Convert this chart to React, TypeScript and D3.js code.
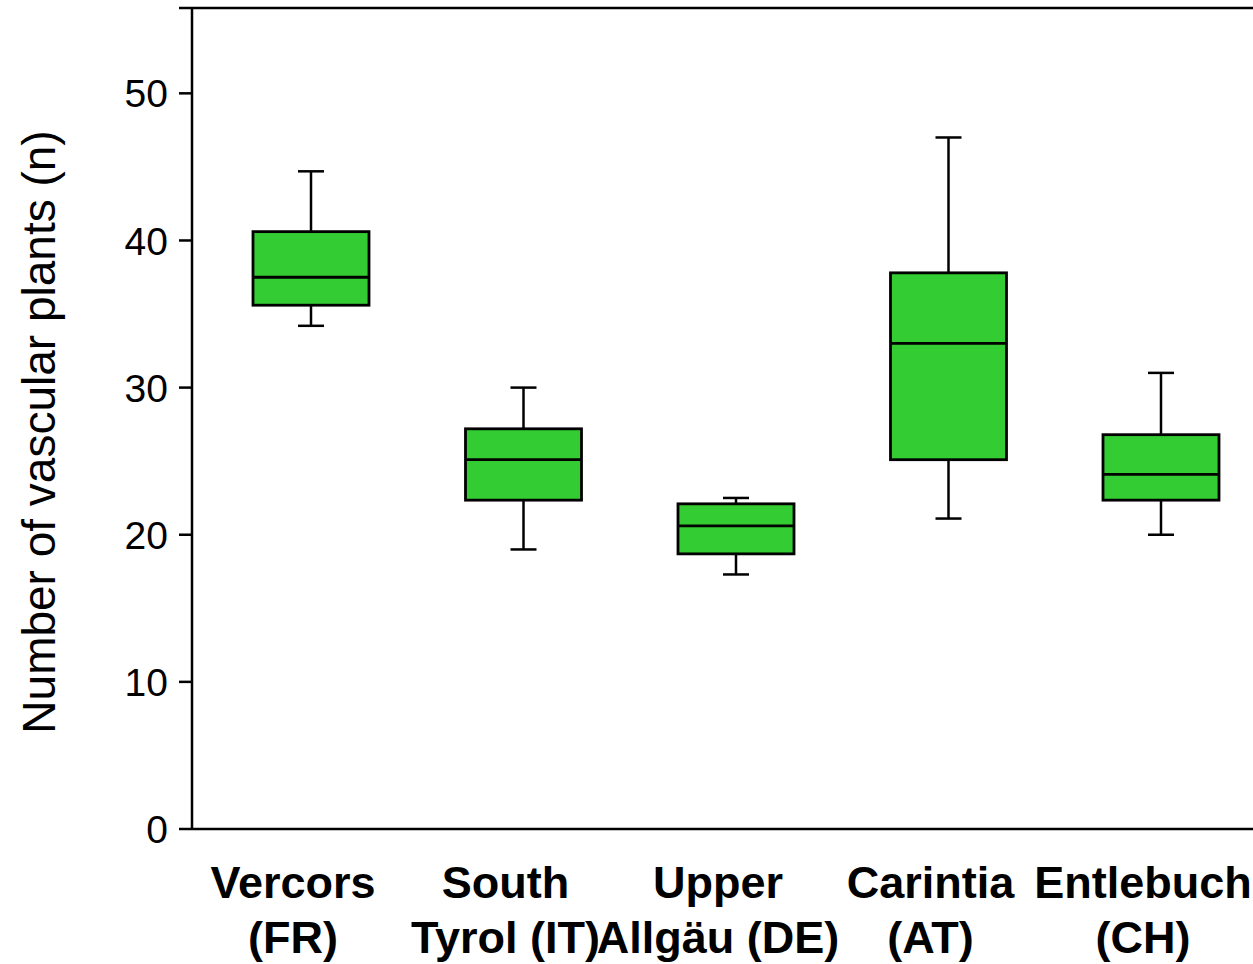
import React from "react";
import * as d3 from "d3";

const categories = ["Vercors|(FR)", "South|Tyrol (IT)", "Upper|Allgäu (DE)", "Carintia|(AT)", "Entlebuch|(CH)"];
const whiskerLow = [34.2, 19.0, 17.3, 21.1, 20.0];
const q1 = [35.6, 22.35, 18.7, 25.1, 22.35];
const median = [37.5, 25.1, 20.6, 33.0, 24.1];
const q3 = [40.6, 27.2, 22.1, 37.8, 26.8];
const whiskerHigh = [44.7, 30.0, 22.5, 47.0, 31.0];
const yTicks = [0, 10, 20, 30, 40, 50];
const yTitle = "Number of vascular plants (n)";

const W = 1253, H = 964;
const left = 192, right = 1253, top = 8, bottom = 829;

export default function App() {
  const y = d3.scaleLinear().domain([0, 55.8]).range([bottom, top]);
  const x = d3.scalePoint<string>().domain(categories).range([311, 1161]);
  const boxW = 116, capW = 26;
  const font = "Arial, 'Liberation Sans', Helvetica, sans-serif";

  return (
    <svg width={W} height={H} style={{ position: "absolute", left: 0, top: 0, background: "#fff" }}>
      <line x1={left} x2={right} y1={top} y2={top} stroke="#000" strokeWidth={2.5} />
      <line x1={left} x2={right} y1={bottom} y2={bottom} stroke="#000" strokeWidth={2.5} />
      <line x1={left} x2={left} y1={top} y2={bottom} stroke="#000" strokeWidth={2.5} />
      <line x1={left - 13} x2={left} y1={top} y2={top} stroke="#000" strokeWidth={2.5} />
      {yTicks.map((t) => (
        <g key={t}>
          <line x1={left - 13} x2={left} y1={y(t)} y2={y(t)} stroke="#000" strokeWidth={2.5} />
          <text x={168} y={y(t)} dy="0.36em" textAnchor="end" fontFamily={font} fontSize={39} fill="#000">
            {t}
          </text>
        </g>
      ))}
      <text
        transform={`translate(55, 432) rotate(-90)`}
        textAnchor="middle"
        fontFamily={font}
        fontSize={46}
        fill="#000"
      >
        {yTitle}
      </text>
      {categories.map((c, i) => {
        const cx = x(c)!;
        return (
          <g key={c}>
            <line x1={cx} x2={cx} y1={y(whiskerHigh[i])} y2={y(q3[i])} stroke="#000" strokeWidth={2.5} />
            <line x1={cx} x2={cx} y1={y(q1[i])} y2={y(whiskerLow[i])} stroke="#000" strokeWidth={2.5} />
            <line x1={cx - capW / 2} x2={cx + capW / 2} y1={y(whiskerHigh[i])} y2={y(whiskerHigh[i])} stroke="#000" strokeWidth={2.5} />
            <line x1={cx - capW / 2} x2={cx + capW / 2} y1={y(whiskerLow[i])} y2={y(whiskerLow[i])} stroke="#000" strokeWidth={2.5} />
            <rect
              x={cx - boxW / 2}
              y={y(q3[i])}
              width={boxW}
              height={y(q1[i]) - y(q3[i])}
              fill="#33cc33"
              stroke="#000"
              strokeWidth={2.8}
            />
            <line x1={cx - boxW / 2} x2={cx + boxW / 2} y1={y(median[i])} y2={y(median[i])} stroke="#000" strokeWidth={2.8} />
            {c.split("|").map((ln, k) => (
              <text
                key={k}
                x={cx - 18}
                y={898 + k * 55}
                textAnchor="middle"
                fontFamily={font}
                fontWeight="bold"
                fontSize={45}
                fill="#000"
              >
                {ln}
              </text>
            ))}
          </g>
        );
      })}
    </svg>
  );
}
